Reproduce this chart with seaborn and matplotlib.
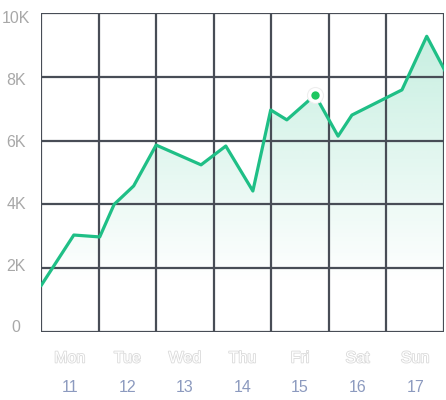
import numpy as np
import pandas as pd
import seaborn as sns
import matplotlib.pyplot as plt
import matplotlib.patheffects as pe
from matplotlib.patches import Polygon

# 数据
days = ['Mon', 'Tue', 'Wed', 'Thu', 'Fri', 'Sat', 'Sun']
dates = ['11', '12', '13', '14', '15', '16', '17']
x_pos = [0.0, 0.57, 1.02, 1.27, 1.61, 2.0, 2.78, 3.21, 3.68, 3.99, 4.27,
         4.76, 5.16, 5.40, 6.27, 6.70, 7.02]
values = [1450, 3040, 2980, 4000, 4580, 5860, 5240, 5830, 4420, 6960, 6650,
          7430, 6140, 6800, 7590, 9270, 8180]
highlight_idx = 11
y_ticks = [0, 2000, 4000, 6000, 8000, 10000]
y_labels = ['0', '2K', '4K', '6K', '8K', '10K']

line_color = '#1fbf86'
grid_color = '#484d56'

df = pd.DataFrame({'x': x_pos, 'y': values})

sns.set_theme(style="white")
plt.rcParams['font.family'] = ['Liberation Sans', 'DejaVu Sans']

fig = plt.figure(figsize=(4.46, 4.0), dpi=100)
ax = fig.add_axes([41 / 446, 1 - 332 / 400, 403 / 446, 319 / 400])
ax.set_xlim(0, 7)
ax.set_ylim(0, 10000)

# 渐变填充
poly_pts = [(0, 0)] + list(zip(x_pos, values)) + [(x_pos[-1], 0)]
poly = Polygon(poly_pts, closed=True, facecolor='none', edgecolor='none')
ax.add_patch(poly)
grad = np.linspace(0, 1, 256).reshape(-1, 1)
alpha = np.clip((grad * 10000 - 1500) / (9300 - 1500), 0, 1) * 0.25
rgba = np.zeros((256, 1, 4))
rgba[..., 0] = 0x1f / 255
rgba[..., 1] = 0xbf / 255
rgba[..., 2] = 0x86 / 255
rgba[..., 3] = alpha
img = ax.imshow(rgba, extent=[0, 7.1, 0, 10000], origin='lower',
                aspect='auto', zorder=1)
img.set_clip_path(poly)

# 网格
for gx in range(8):
    ax.axvline(gx, color=grid_color, lw=1.6, zorder=2)
for gy in y_ticks:
    ax.axhline(gy, color=grid_color, lw=1.6, zorder=2)

sns.lineplot(data=df, x='x', y='y', color=line_color, linewidth=2.3,
             sort=False, ax=ax, zorder=3, solid_joinstyle='round',
             solid_capstyle='round')

# 高亮点
ax.plot(x_pos[highlight_idx], values[highlight_idx], 'o', ms=11.5,
        mfc='white', mec='#eeeeee', mew=0.8, zorder=4)
ax.plot(x_pos[highlight_idx], values[highlight_idx], 'o', ms=6,
        mfc='#1ec760', mec='none', zorder=5)

for s in ax.spines.values():
    s.set_visible(False)

ax.set_xticks([])
ax.set_yticks([])
ax.set_xlabel('')
ax.set_ylabel('')

# y 轴标签（标签略向内收）
for i, lab in enumerate(y_labels):
    ypix = 328 - i * 61.8
    ax.text(-25 / 57.6, (332 - ypix) / 31.9 * 1000, lab, ha='center',
            va='center', fontsize=11.5, color='#a8a8a8', clip_on=False)

# x 轴标签
for i, (d, n) in enumerate(zip(days, dates)):
    ax.text(i + 0.5, -26 / 31.9 * 1000, d, ha='center', va='center',
            fontsize=11.5, color='white', clip_on=False,
            path_effects=[pe.withStroke(linewidth=1.2, foreground='#dadada')])
    ax.text(i + 0.5, -56 / 31.9 * 1000, n, ha='center', va='center',
            fontsize=11.5, color='#8c9abf', clip_on=False)

plt.savefig('out.png', dpi=100)
